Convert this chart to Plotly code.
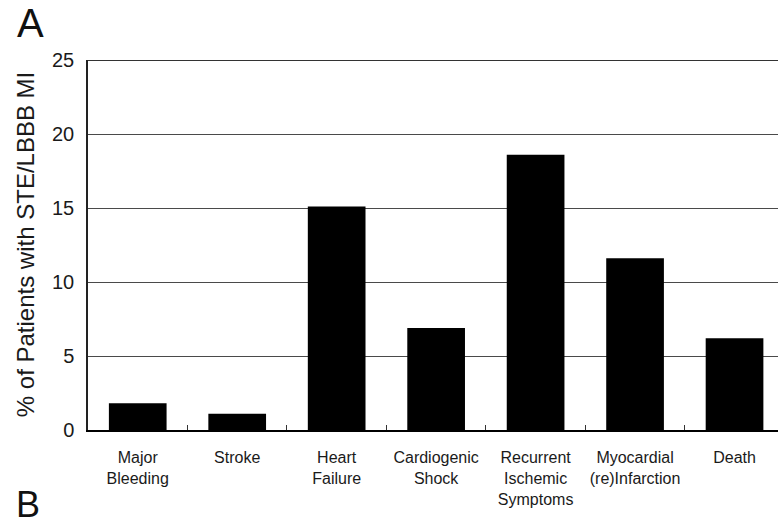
import plotly.graph_objects as go

# Outcome categories and percentages of patients with STE/LBBB MI
categories = [
    "Major<br>Bleeding",
    "Stroke",
    "Heart<br>Failure",
    "Cardiogenic<br>Shock",
    "Recurrent<br>Ischemic<br>Symptoms",
    "Myocardial<br>(re)Infarction",
    "Death",
]
percent = [1.8, 1.1, 15.1, 6.9, 18.6, 11.6, 6.2]
y_ticks = [0, 5, 10, 15, 20, 25]
y_max = 25

FONT = "Liberation Sans, Arial, Helvetica, sans-serif"

fig = go.Figure(
    go.Bar(
        x=categories,
        y=percent,
        width=0.58,
        marker=dict(color="black", line=dict(width=0)),
        hoverinfo="x+y",
    )
)

fig.update_layout(
    width=778,
    height=524,
    margin=dict(l=88, r=0, t=60, b=94, autoexpand=False),
    paper_bgcolor="white",
    plot_bgcolor="white",
    showlegend=False,
    font=dict(family=FONT, color="#1a1a1a"),
    xaxis=dict(
        type="category",
        range=[-0.5, 6.437],
        automargin=False,
        tickangle=0,
        showline=True,
        linecolor="black",
        linewidth=2,
        ticks="inside",
        tickson="boundaries",
        ticklen=5,
        tickwidth=1,
        tickcolor="#333",
        showgrid=False,
        tickfont=dict(size=16, family=FONT, color="#1a1a1a"),
        ticklabelstandoff=12,
        fixedrange=True,
    ),
    yaxis=dict(
        range=[0, y_max],
        tickvals=y_ticks,
        automargin=False,
        showline=True,
        linecolor="#222",
        linewidth=1.5,
        showgrid=True,
        gridcolor="#4a4a4a",
        gridwidth=1,
        zeroline=False,
        ticks="",
        tickfont=dict(size=20, family=FONT, color="#1a1a1a"),
        ticklabelstandoff=8,
        fixedrange=True,
    ),
    shapes=[
        # darker rule along the top of the plotting frame
        dict(type="line", xref="paper", yref="y", x0=0, x1=1, y0=y_max, y1=y_max,
             line=dict(color="#333", width=2)),
    ],
    annotations=[
        dict(text="% of Patients with STE/LBBB MI", textangle=-90,
             xref="paper", yref="paper", x=-0.091, y=0.5,
             xanchor="center", yanchor="middle", showarrow=False,
             font=dict(size=24, family=FONT, color="#1a1a1a")),
        dict(text="A", xref="paper", yref="paper", x=-0.084, y=1.1,
             xanchor="center", yanchor="middle", showarrow=False,
             font=dict(size=40, family=FONT, color="#111")),
        dict(text="B", xref="paper", yref="paper", x=-0.087, y=-0.2,
             xanchor="center", yanchor="middle", showarrow=False,
             font=dict(size=36, family=FONT, color="#111")),
    ],
)

fig.write_html("out.html", config={"displayModeBar": False})
